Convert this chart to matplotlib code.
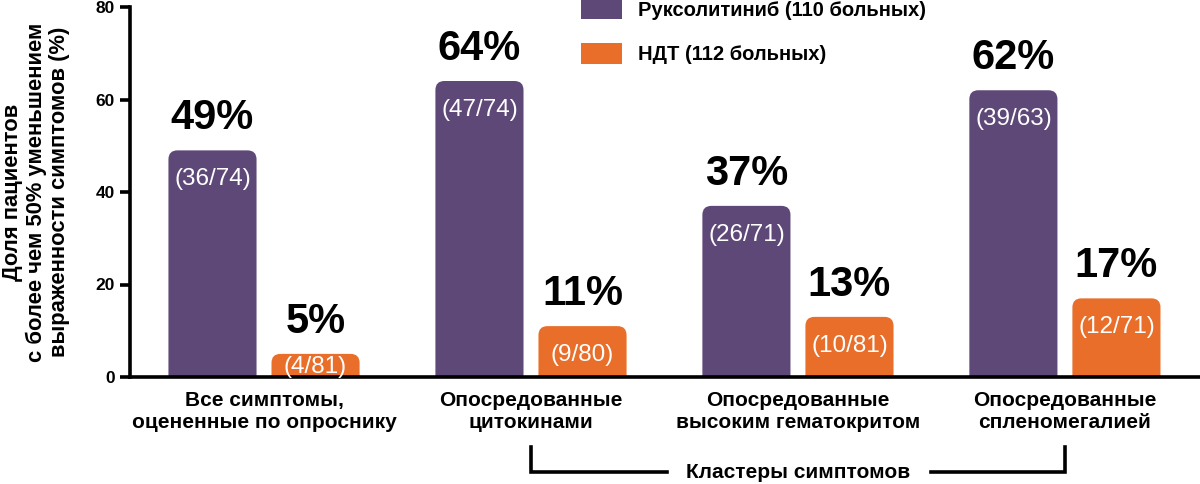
"""Доля пациентов с >50% уменьшением симптомов: руксолитиниб vs НДТ."""

import matplotlib

matplotlib.use("Agg")

import matplotlib.pyplot as plt
import matplotlib.transforms as mtransforms
from matplotlib.patches import FancyBboxPatch, Rectangle
from matplotlib.lines import Line2D
import numpy as np

# --- data ---
CATEGORIES = [
    "Все симптомы,\nоцененные по опроснику",
    "Опосредованные\nцитокинами",
    "Опосредованные\nвысоким гематокритом",
    "Опосредованные\nспленомегалией",
]
RUXO_PCT = [49, 64, 37, 62]
BAT_PCT = [5, 11, 13, 17]
RUXO_N = ["(36/74)", "(47/74)", "(26/71)", "(39/63)"]
BAT_N = ["(4/81)", "(9/80)", "(10/81)", "(12/71)"]
SERIES_LABELS = ["Руксолитиниб (110 больных)", "НДТ (112 больных)"]
Y_TICKS = [0, 20, 40, 60, 80]
Y_LABEL = "Доля пациентов\nс более чем 50% уменьшением\nвыраженности симптомов (%)"
CLUSTER_LABEL = "Кластеры симптомов"

PURPLE = "#5E4878"
ORANGE = "#E86E2A"
W, H = 1200, 484

plt.rcParams["font.family"] = ["Liberation Sans", "DejaVu Sans"]

fig = plt.figure(figsize=(W / 100, H / 100), dpi=100)
ax = fig.add_axes([130 / W, (H - 377) / H, 1 - 130 / W, 370 / H])

x = np.arange(len(CATEGORIES))
bw = 0.33
off = 0.193
ax.set_xlim(-0.502, 3.506)
ax.set_ylim(0, 80)

bars_r = ax.bar(x - off, RUXO_PCT, bw, color=PURPLE)
bars_b = ax.bar(x + off, BAT_PCT, bw, color=ORANGE)

# px -> data unit scales
x_per_px = (ax.get_xlim()[1] - ax.get_xlim()[0]) / (W - 130)
y_per_px = 80 / 370
r_px = 9
rx = r_px * x_per_px
ry = r_px * y_per_px

# swap plain rectangles for ones with rounded top corners
for bars, color in ((bars_r, PURPLE), (bars_b, ORANGE)):
    for rect in bars:
        rect.set_visible(False)
        fb = FancyBboxPatch(
            (rect.get_x(), -ry * 1.5), rect.get_width(), rect.get_height() + ry * 1.5,
            boxstyle=f"round,pad=0,rounding_size={rx}",
            mutation_aspect=ry / rx, facecolor=color, edgecolor="none",
        )
        ax.add_patch(fb)

# labels on bars
for xs, vals, ns in ((x - off, RUXO_PCT, RUXO_N), (x + off, BAT_PCT, BAT_N)):
    for xi, v, n in zip(xs, vals, ns):
        ax.text(xi, v + 12 * y_per_px, f"{v}%", ha="center", va="bottom",
                fontsize=30, fontweight="bold", color="black")
        ax.text(xi, max(v - 29 * y_per_px, 2.2), n, ha="center", va="center",
                fontsize=17.5, color="white")

# axes styling
for s in ("top", "right"):
    ax.spines[s].set_visible(False)
ax.spines["left"].set_linewidth(2.6)
ax.spines["bottom"].set_linewidth(2.6)
ax.set_yticks(Y_TICKS)
ax.tick_params(axis="y", direction="out", length=7, width=2.6, labelsize=12.5, pad=4)
for lbl in ax.get_yticklabels():
    lbl.set_fontweight("bold")
ax.set_xticks(x)
ax.set_xticklabels(CATEGORIES, fontsize=15, fontweight="bold", linespacing=1.2)
ax.tick_params(axis="x", length=0, pad=10)

fig.text(36 / W, (H - 192) / H, Y_LABEL, rotation=90, ha="center", va="center",
         fontsize=15.8, fontweight="bold", linespacing=1.15)

# bracket for symptom clusters
bt = mtransforms.blended_transform_factory(ax.transData, fig.transFigure)
y_top = (H - 447) / H
y_bot = (H - 472) / H
x_l, x_r = x[1], x[3]
x_gap_l = 2 - 131 * x_per_px
x_gap_r = 2 + 133 * x_per_px
for xs_, ys_ in (([x_l, x_l, x_gap_l], [y_top, y_bot, y_bot]),
                 ([x_gap_r, x_r, x_r], [y_bot, y_bot, y_top])):
    ax.add_line(Line2D(xs_, ys_, transform=bt, color="black", lw=2.6,
                       clip_on=False, solid_joinstyle="miter"))
ax.text(2, y_bot, CLUSTER_LABEL, transform=bt, ha="center", va="center",
        fontsize=15, fontweight="bold")

# legend
for i, (lab, color) in enumerate(zip(SERIES_LABELS, (PURPLE, ORANGE))):
    top_px = -2 + i * 45
    fig.patches.append(Rectangle((581 / W, (H - top_px - 21) / H), 41 / W, 21 / H,
                                 transform=fig.transFigure, facecolor=color,
                                 edgecolor="none"))
    fig.text(638 / W, (H - top_px - 12) / H, lab, ha="left", va="center",
             fontsize=14.5, fontweight="bold")

fig.savefig("out.png", dpi=100, facecolor="white")
